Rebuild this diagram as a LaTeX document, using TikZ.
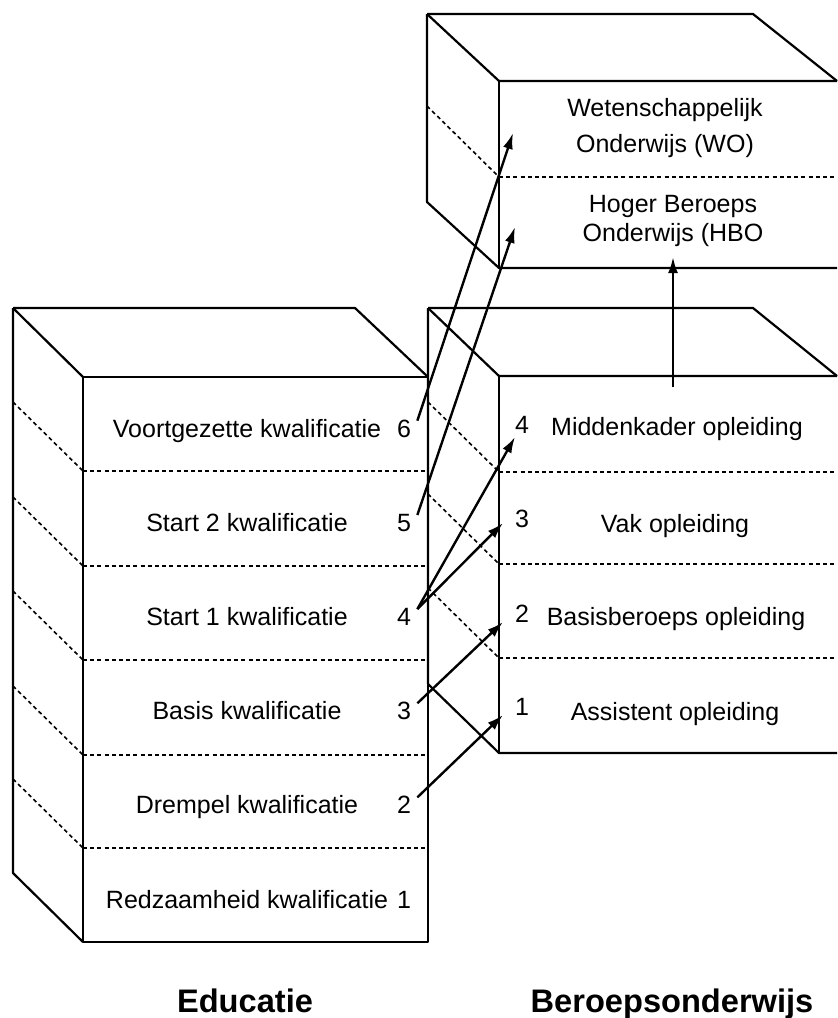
\documentclass[tikz,border=0pt]{standalone}
\usepackage{fontspec}
\setmainfont{Liberation Sans}
\usepackage{tikz}
\usetikzlibrary{arrows.meta}

\tikzset{
  edge/.style={line width=1.1pt},
  divider/.style={line width=0.8pt,dash pattern=on 2pt off 1.6pt},
  lbl/.style={font=\fontsize{12.5}{14.5}\selectfont,inner sep=1pt,anchor=base},
  num/.style={lbl,inner xsep=3pt},
  title/.style={font=\fontsize{16.3}{19}\selectfont\bfseries,anchor=base},
  arr/.style={->,line width=1.2pt}
}

\begin{document}
\begin{tikzpicture}[x=0.5pt,y=-0.5pt,>={Latex[length=8pt,width=5pt]},line join=bevel]
\useasboundingbox (0,0) rectangle (837,1018);
% Educatie block
\draw[edge] (13,308) -- (355,308) -- (428,377);
\draw[edge] (13,308) -- (83,377);
\draw[edge] (13,308) -- (13,873) -- (83,942);
\draw[edge] (83,377) rectangle (428,942);
\foreach \y in {471,566,660,755,848} {
  \draw[divider] (83,\y) -- (428,\y);
  \draw[divider] (13,{\y-69}) -- (83,\y);
}
% Beroepsonderwijs block
\draw[edge] (428,308) -- (753,308) -- (837,376);
\draw[edge] (428,308) -- (499,376) -- (837,376);
\draw[edge] (428,308) -- (428,684) -- (499,753) -- (837,753);
\draw[edge] (499,376) -- (499,753);
\foreach \y in {472,564,658} {
  \draw[divider] (499,\y) -- (837,\y);
  \draw[divider] (428,{\y-70}) -- (499,\y);
}
% WO / HBO block
\draw[edge] (427,14) -- (753,14) -- (837,81);
\draw[edge] (427,14) -- (499,81) -- (837,81);
\draw[edge] (427,14) -- (427,202) -- (499,268) -- (837,268);
\draw[edge] (499,81) -- (499,268);
\draw[divider] (499,177) -- (837,177);
\draw[divider] (427,106) -- (499,177);

% qualification levels
\foreach \txt/\n [count=\i from 0] in {Voortgezette kwalificatie/6,Start 2 kwalificatie/5,Start 1 kwalificatie/4,Basis kwalificatie/3,Drempel kwalificatie/2,Redzaamheid kwalificatie/1} {
  \node[lbl] (kw\n) at (247,{437+94.2*\i}) {\txt};
  \node[num] (e\n) at (404,{437+94.2*\i}) {\n};
}
\node[lbl] (op4) at (677,435) {Middenkader opleiding};
\node[lbl] (op3) at (675,532) {Vak opleiding};
\node[lbl] (op2) at (676,625) {Basisberoeps opleiding};
\node[lbl] (op1) at (675,720) {Assistent opleiding};
\node[num] (b4) at (522,433) {4};
\node[num] (b3) at (522,527) {3};
\node[num] (b2) at (522,622) {2};
\node[num] (b1) at (522,715) {1};
\node[lbl,anchor=center,align=center] (wo) at (665,128) {Wetenschappelijk\\[3.5pt]Onderwijs (WO)};
\node[lbl,anchor=center,align=center] (hbo) at (673,221) {Hoger Beroeps\\Onderwijs (HBO};

\node[title] (educatie) at (245,1012) {Educatie};
\node[title] (beroeps) at (672,1012) {Beroepsonderwijs};

% arrow tips
\coordinate (inWO) at (513,133);
\coordinate (inHBO) at (515,227);
\coordinate (inMK) at (515,437);
\coordinate (inVak) at (503,523);
\coordinate (inBasis) at (503,622);
\coordinate (inAss) at (503,715);

\draw[arr] (e6.30) -- (inWO);
\draw[arr] (e5.30) -- (inHBO);
\draw[arr] (e4.30) -- (inMK);
\draw[arr] (e4.30) -- (inVak);
\draw[arr] (e3.30) -- (inBasis);
\draw[arr] (e2.30) -- (inAss);
\draw[arr,shorten >=4pt,shorten <=13.5pt] (hbo.south |- op4.north) -- (hbo.south);
\end{tikzpicture}
\end{document}
